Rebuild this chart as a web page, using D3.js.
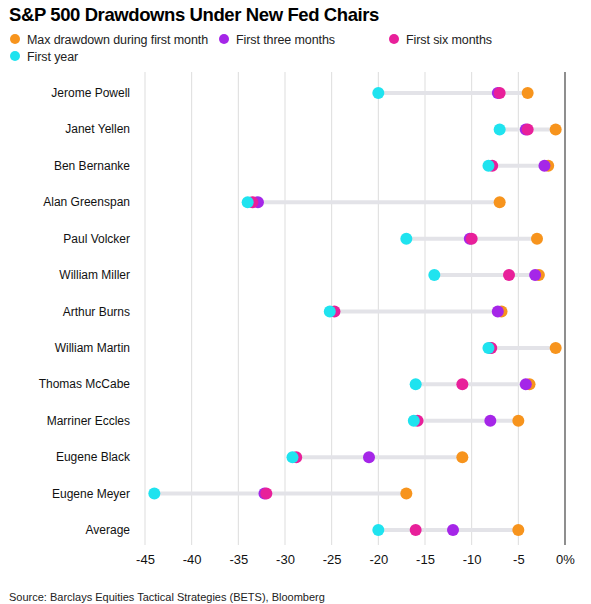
<!DOCTYPE html>
<html><head><meta charset="utf-8">
<script src="https://cdn.jsdelivr.net/npm/d3@7"></script>
<style>body{margin:0;background:#fff;font-family:"Liberation Sans",Arial,sans-serif}</style>
</head><body><svg id="c" width="591" height="604"></svg>
<script>
const chairs=["Jerome Powell","Janet Yellen","Ben Bernanke","Alan Greenspan","Paul Volcker","William Miller","Arthur Burns","William Martin","Thomas McCabe","Marriner Eccles","Eugene Black","Eugene Meyer","Average"];
const firstMonth=[-4,-1,-1.8,-7,-3,-2.8,-6.8,-1,-3.8,-5,-11,-17,-5];
const threeMonths=[-7.2,-4.2,-2.2,-32.9,-10.2,-3.2,-7.2,-8,-4.2,-8,-21,-32.2,-12];
const sixMonths=[-7,-4,-7.8,-33.5,-10,-6,-24.7,-7.9,-11,-15.8,-28.8,-32,-16];
const firstYear=[-20,-7,-8.2,-34,-17,-14,-25.2,-8.2,-16,-16.2,-29.2,-44,-20];
const ticks=[-45,-40,-35,-30,-25,-20,-15,-10,-5,0];
const seriesNames=["Max drawdown during first month","First three months","First six months","First year"];
const colors=["#f7941d","#a526e8","#e8209a","#1fe3ef"];
const series=[firstMonth,threeMonths,sixMonths,firstYear];

const svg=d3.select("#c");
const x=d3.scaleLinear().domain([-45,0]).range([145,565]);
const y=d3.scalePoint().domain(chairs).range([93,530]);

svg.append("text").attr("x",9).attr("y",21).attr("font-size",18.5).attr("font-weight","bold").attr("letter-spacing",-0.4).text("S&P 500 Drawdowns Under New Fed Chairs");
const legPos=[[9,39],[218,39],[388,39],[9,56]];
seriesNames.forEach((n,i)=>{
  const g=svg.append("g");
  g.append("circle").attr("cx",legPos[i][0]+6).attr("cy",legPos[i][1]).attr("r",5).attr("fill",colors[i]);
  g.append("text").attr("x",legPos[i][0]+18).attr("y",legPos[i][1]+4.5).attr("font-size",12.5).attr("letter-spacing",-0.1).attr("fill","#222").text(n);
});

svg.append("g").selectAll("line").data(ticks.filter(t=>t<0)).join("line")
  .attr("x1",d=>x(d)).attr("x2",d=>x(d)).attr("y1",72).attr("y2",545).attr("stroke","#ddd").attr("stroke-width",1);
svg.append("line").attr("x1",x(0)).attr("x2",x(0)).attr("y1",72).attr("y2",545).attr("stroke","#444").attr("stroke-width",1.2);

const ax=svg.append("g").attr("transform","translate(0,545)").call(d3.axisBottom(x).tickValues(ticks).tickSize(0).tickPadding(10).tickFormat(d=>d===0?"0%":d));
ax.select(".domain").remove();
ax.selectAll("text").attr("font-size",13).attr("fill","#111").attr("font-family","Liberation Sans,Arial,sans-serif");

svg.append("g").selectAll("text").data(chairs).join("text")
  .attr("x",130).attr("y",d=>y(d)+4).attr("text-anchor","end").attr("font-size",12).attr("fill","#111").text(d=>d);

svg.append("g").selectAll("line").data(chairs).join("line")
  .attr("x1",(d,i)=>x(d3.min(series,s=>s[i]))).attr("x2",(d,i)=>x(d3.max(series,s=>s[i])))
  .attr("y1",d=>y(d)).attr("y2",d=>y(d)).attr("stroke","#e3e3e8").attr("stroke-width",4);

series.forEach((s,k)=>{
  svg.append("g").selectAll("circle").data(s).join("circle")
    .attr("cx",d=>x(d)).attr("cy",(d,i)=>y(chairs[i])).attr("r",6).attr("fill",colors[k]);
});

svg.append("text").attr("x",9).attr("y",601).attr("font-size",11).attr("fill","#222").text("Source: Barclays Equities Tactical Strategies (BETS), Bloomberg");
</script></body></html>
